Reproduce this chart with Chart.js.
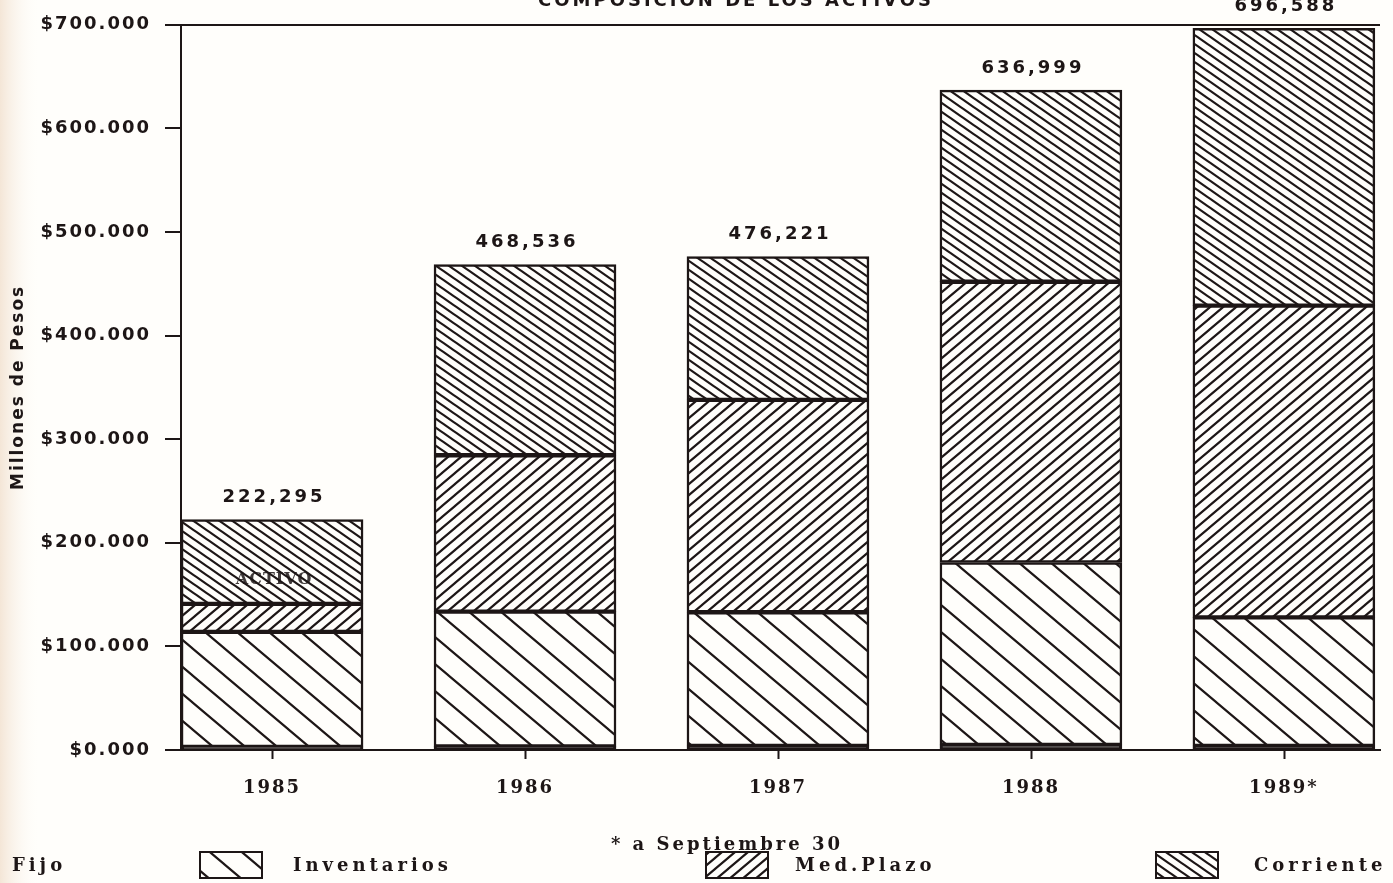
<!DOCTYPE html>
<html>
<head>
<meta charset="utf-8">
<script src="https://cdn.jsdelivr.net/npm/chart.js@4.4.1/dist/chart.umd.min.js"></script>
<style>
  html, body { margin: 0; padding: 0; background: #fffefb; }
  #c { display: block; }
</style>
</head>
<body>
<canvas id="c" width="1393" height="883"></canvas>
<script>
// ---- data (values in millones de pesos) ----
const years = ['1985', '1986', '1987', '1988', '1989*'];
const fijo = [3000, 3500, 4000, 5000, 4000];
const inventarios = [111000, 130000, 129000, 176000, 124000];
const medPlazo = [27000, 151000, 205000, 271000, 301000];
const corriente = [81295, 184036, 138221, 184999, 267588];
const totalLabels = ['222,295', '468,536', '476,221', '636,999', '696,588'];
const yTickLabels = ['$0.000', '$100.000', '$200.000', '$300.000', '$400.000', '$500.000', '$600.000', '$700.000'];
const seriesNames = ['Fijo', 'Inventarios', 'Med.Plazo', 'Corriente'];

const INK = '#1d1616';
const canvas = document.getElementById('c');
const mainCtx = canvas.getContext('2d');

function hatch(w, h, dir, lw) {
  const t = document.createElement('canvas');
  t.width = w; t.height = h;
  const g = t.getContext('2d');
  g.fillStyle = '#fffefb';
  g.fillRect(0, 0, w, h);
  g.strokeStyle = INK;
  g.lineWidth = lw;
  g.beginPath();
  for (let k = -2; k <= 2; k++) {
    if (dir > 0) { g.moveTo(k * w - w, -h); g.lineTo(k * w + 2 * w, 2 * h); }
    else { g.moveTo(k * w - w, 2 * h); g.lineTo(k * w + 2 * w, -h); }
  }
  g.stroke();
  return mainCtx.createPattern(t, 'repeat');
}

const patInv = hatch(32, 27, 1, 2.2);
const patMed = hatch(13, 11, -1, 2.2);
const patCor = hatch(13, 9, 1, 2.2);
const fills = [INK, patInv, patMed, patCor];

const seriesValues = [fijo, inventarios, medPlazo, corriente];
const datasets = seriesValues.map((vals, s) => ({
  label: seriesNames[s],
  data: vals.map((v, i) => ({ x: i, y: v })),
  backgroundColor: fills[s],
  borderColor: INK,
  borderWidth: 2.5,
  borderSkipped: false,
  barThickness: 182
}));

const decor = {
  id: 'decor',
  beforeDraw(chart) {
    const ctx = chart.ctx;
    ctx.save();
    ctx.fillStyle = '#fffefb';
    ctx.fillRect(0, 0, chart.width, chart.height);
    const gr = ctx.createLinearGradient(0, 0, 40, 0);
    gr.addColorStop(0, 'rgba(235,210,185,0.55)');
    gr.addColorStop(1, 'rgba(255,254,251,0)');
    ctx.fillStyle = gr;
    ctx.fillRect(0, 0, 40, chart.height);
    ctx.restore();
    ctx.letterSpacing = '2px';
  },
  afterDraw(chart) {
    const ctx = chart.ctx;
    const xs = chart.scales.x, ys = chart.scales.y;
    ctx.save();
    // small tick marks below the x axis at each bar centre
    ctx.strokeStyle = INK;
    ctx.lineWidth = 2;
    years.forEach((_, i) => {
      const px = Math.round(xs.getPixelForValue(i)) + 0.5;
      ctx.beginPath();
      ctx.moveTo(px, ys.bottom);
      ctx.lineTo(px, ys.bottom + 9);
      ctx.stroke();
    });
    ctx.fillStyle = INK;
    ctx.textBaseline = 'middle';
    // title (cut at top)
    ctx.letterSpacing = '3px';
    ctx.font = 'bold 18px "DejaVu Sans"';
    ctx.textAlign = 'center';
    ctx.fillText('COMPOSICION DE LOS ACTIVOS', 736, 1);
    // totals above bars
    ctx.letterSpacing = '3px';
    ctx.font = 'bold 18px "DejaVu Sans"';
    years.forEach((y, i) => {
      const sum = seriesValues.reduce((a, arr) => a + arr[i], 0);
      const px = xs.getPixelForValue(i);
      const py = ys.getPixelForValue(sum);
      ctx.fillText(totalLabels[i], px + 2, py - 22);
    });
    // overlay text in first bar
    ctx.letterSpacing = '1px';
    ctx.font = 'bold 16px "DejaVu Serif"';
    ctx.fillStyle = 'rgba(29,22,22,0.85)';
    ctx.fillText('ACTIVO', xs.getPixelForValue(0) + 2, 580);
    ctx.fillStyle = INK;
    // footnote
    ctx.letterSpacing = '3px';
    ctx.font = 'bold 18px "DejaVu Serif"';
    ctx.fillText('* a Septiembre 30', 727, 845);
    // legend
    ctx.textAlign = 'left';
    ctx.letterSpacing = '4px';
    ctx.font = 'bold 18px "DejaVu Serif"';
    ctx.fillText('Fijo', 12, 866);
    const items = [
      { fill: patInv, box: 200, text: 293, name: seriesNames[1] },
      { fill: patMed, box: 706, text: 795, name: seriesNames[2] },
      { fill: patCor, box: 1156, text: 1254, name: seriesNames[3] }
    ];
    items.forEach(it => {
      ctx.fillStyle = it.fill;
      ctx.fillRect(it.box, 852, 62, 26);
      ctx.strokeStyle = INK;
      ctx.lineWidth = 2;
      ctx.strokeRect(it.box, 852, 62, 26);
      ctx.fillStyle = INK;
      ctx.fillText(it.name, it.text, 866);
    });
    ctx.restore();
  }
};

new Chart(canvas, {
  type: 'bar',
  data: { datasets },
  plugins: [decor],
  options: {
    responsive: false,
    devicePixelRatio: 1,
    animation: false,
    layout: { padding: { top: 22, right: 13, bottom: 73, left: 0 } },
    plugins: { legend: { display: false }, tooltip: { enabled: false } },
    scales: {
      x: {
        type: 'linear',
        stacked: true,
        offset: false,
        min: -0.36,
        max: 4.38,
        afterBuildTicks(scale) { scale.ticks = years.map((_, i) => ({ value: i })); },
        afterFit(scale) { scale.height = 60; },
        ticks: {
          color: INK,
          font: { family: '"DejaVu Serif"', weight: 'bold', size: 18 },
          padding: 18,
          maxRotation: 0,
          autoSkip: false,
          callback: (v) => years[v]
        },
        grid: { display: false, drawTicks: true, tickLength: 10 },
        border: { display: true, color: INK, width: 2 }
      },
      y: {
        stacked: true,
        min: 0,
        max: 700000,
        afterBuildTicks(scale) { scale.ticks = yTickLabels.map((_, i) => ({ value: i * 100000 })); },
        afterFit(scale) { scale.width = 181; },
        ticks: {
          color: INK,
          font: { family: '"DejaVu Sans"', weight: 'bold', size: 18 },
          padding: 14,
          callback: (v) => yTickLabels[Math.round(v / 100000)]
        },
        grid: {
          drawOnChartArea: true,
          color: (c) => (c.tick && c.tick.value === 700000 ? INK : 'rgba(0,0,0,0)'),
          lineWidth: 2,
          drawTicks: true,
          tickLength: 16,
          tickColor: INK,
          tickWidth: 2
        },
        border: { color: INK, width: 2 },
        title: {
          display: true,
          text: 'Millones de Pesos',
          color: INK,
          font: { family: '"DejaVu Sans"', weight: 'bold', size: 17 },
          padding: { top: 8, bottom: 0 }
        }
      }
    }
  }
});
</script>
</body>
</html>
